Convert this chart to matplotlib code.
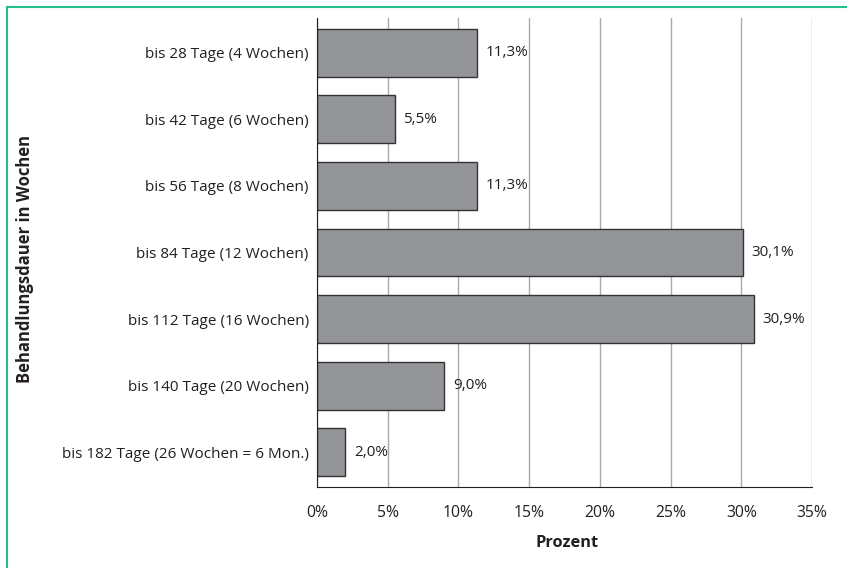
import numpy as np
import matplotlib
matplotlib.use('Agg')
import matplotlib.pyplot as plt
from matplotlib.lines import Line2D

plt.rcParams['font.family'] = ['Open Sans', 'DejaVu Sans']

# data =========================================================
categories = ['bis 28 Tage (4 Wochen)',
              'bis 42 Tage (6 Wochen)',
              'bis 56 Tage (8 Wochen)',
              'bis 84 Tage (12 Wochen)',
              'bis 112 Tage (16 Wochen)',
              'bis 140 Tage (20 Wochen)',
              'bis 182 Tage (26 Wochen = 6 Mon.)']
values = [11.3, 5.5, 11.3, 30.1, 30.9, 9.0, 2.0]
xticks = [0, 5, 10, 15, 20, 25, 30, 35]

txtCol = '#231f20'

fig = plt.figure(figsize=(8.47, 5.68), dpi=100, facecolor='white')
ax = fig.add_axes([317 / 847, 1 - 487 / 568, (812 - 317) / 847, (487 - 18) / 568])

y = np.arange(len(categories))
ax.barh(y, values, height=0.72, color='#939598', edgecolor='#333333',
        linewidth=1.0, zorder=3)

for yi, v in zip(y, values):
    ax.text(v + 0.6, yi, ('%.1f%%' % v).replace('.', ','), va='center', ha='left',
            fontsize=11, color=txtCol, zorder=4)

ax.set_xlim(0, 35)
ax.set_ylim(6.52, -0.52)
ax.set_xticks(xticks)
ax.set_xticklabels(['%d%%' % t for t in xticks], fontsize=11.3, color=txtCol)
ax.set_yticks(y)
ax.set_yticklabels(categories, fontsize=11, color=txtCol)
ax.tick_params(axis='x', length=0, pad=13)
ax.tick_params(axis='y', length=0, pad=6)

ax.grid(True, axis='x', color='#a7a9ac', linewidth=1.0, zorder=0)
ax.set_axisbelow(True)
for s in ['top', 'right']:
    ax.spines[s].set_visible(False)
ax.spines['left'].set_color(txtCol)
ax.spines['bottom'].set_color(txtCol)
ax.spines['left'].set_zorder(5)
ax.spines['bottom'].set_zorder(5)

ax.set_xlabel('Prozent', fontsize=11.8, fontweight='bold', color=txtCol, va='center')
ax.xaxis.set_label_coords(0.505, -0.119)
fig.text(25 / 847, 1 - 259 / 568, 'Behandlungsdauer in Wochen', rotation=90, fontsize=12,
         fontweight='bold', color=txtCol, ha='center', va='center')

# green frame ==================================================
frameCol = '#21c087'
fig.add_artist(Line2D([6.5 / 847, 1.0], [1 - 6.5 / 568, 1 - 6.5 / 568],
                      transform=fig.transFigure, color=frameCol, linewidth=1.5))
fig.add_artist(Line2D([6.5 / 847, 6.5 / 847], [0.0, 1 - 6.5 / 568],
                      transform=fig.transFigure, color=frameCol, linewidth=1.5))

fig.savefig('out.png', dpi=100)
